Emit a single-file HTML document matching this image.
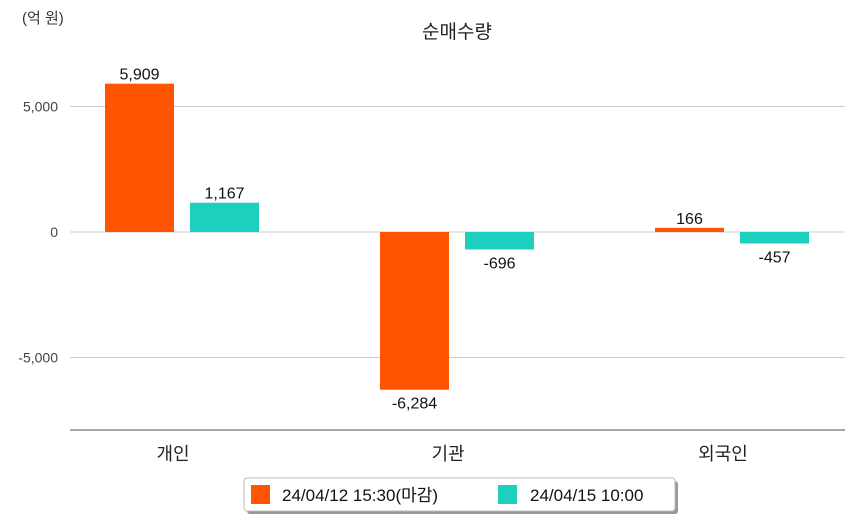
<!DOCTYPE html>
<html><head><meta charset="utf-8">
<style>
body{margin:0;background:#fff;width:854px;height:520px;overflow:hidden;font-family:"Liberation Sans","Noto Sans CJK KR",sans-serif;}
</style></head>
<body>
<svg id="chart" width="854" height="520" xmlns="http://www.w3.org/2000/svg" font-family="Liberation Sans, Noto Sans CJK KR, sans-serif">
<text x="22" y="23" font-size="15" fill="#333">(억 원)</text>
<text x="457" y="38" font-size="19" fill="#222" text-anchor="middle">순매수량</text>
<g id="grid"></g>
<g id="bars"></g>
<line x1="70" y1="430" x2="845" y2="430" stroke="#888" stroke-width="1.5"/>
<g>
<rect x="247" y="481" width="431" height="33" rx="3" fill="#999"/>
<rect x="244" y="478" width="431" height="33" rx="3" fill="#fff" stroke="#bbb"/>
<rect x="251" y="485" width="19" height="19" fill="#ff5500"/>
<text x="282" y="501" font-size="17" fill="#111">24/04/12 15:30(마감)</text>
<rect x="498" y="485" width="19" height="19" fill="#1ccfbf"/>
<text x="530" y="501" font-size="17" fill="#111">24/04/15 10:00</text>
</g>
</svg>
<script>
const categories = ["개인", "기관", "외국인"];
const series1 = [5909, -6284, 166];
const series2 = [1167, -696, -457];
const ticks = [5000, 0, -5000];
const tickLabels = ["5,000", "0", "-5,000"];
const ns = "http://www.w3.org/2000/svg";
const y = v => 232 - v * 0.02510;
const cx = i => 182 + i * 275;
const grid = document.getElementById('grid');
const bars = document.getElementById('bars');
function mk(tag, attrs, parent){const e=document.createElementNS(ns,tag);for(const k in attrs)e.setAttribute(k,attrs[k]);parent.appendChild(e);return e;}
ticks.forEach((t,i)=>{
  const l=mk('line',{x1:70,x2:845,y1:y(t),y2:y(t),stroke:'#ccc'},grid);
  
  
  const tx=mk('text',{x:58,y:y(t)+5,'font-size':14,fill:'#444','text-anchor':'end'},grid);
  tx.textContent=tickLabels[i];
  
  
});
const fmt=v=>v.toLocaleString('en-US');
function bar(v,x,color,name){
  const top=Math.min(y(v),y(0)),h=Math.abs(y(v)-y(0));
  const r=mk('rect',{x:x,y:top,width:69,height:h,fill:color},bars);
  
  
  const ty=v>=0?y(v)-4:y(v)+19;
  const t=mk('text',{x:x+34.5,y:ty,'font-size':16,fill:'#111','text-anchor':'middle'},bars);
  t.textContent=fmt(v);
  
  
}
categories.forEach((c,i)=>{
  bar(series1[i],cx(i)-77,'#ff5500','bar-0412-'+i);
  bar(series2[i],cx(i)+8,'#1ccfbf','bar-0415-'+i);
  const t=mk('text',{x:cx(i)-9,y:460,'font-size':18,fill:'#222','text-anchor':'middle'},bars);
  t.textContent=c;
  
  
});
</script>
</body></html>
